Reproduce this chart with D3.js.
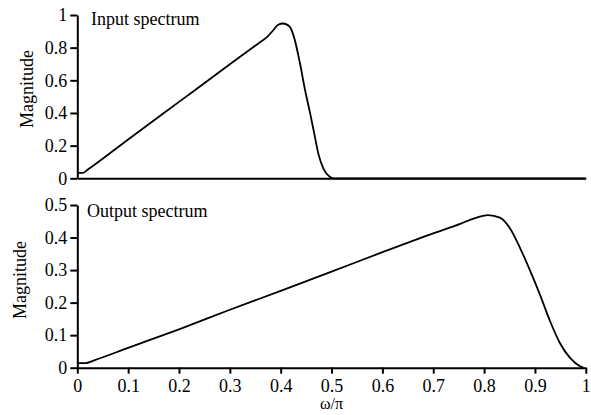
<!DOCTYPE html>
<html>
<head>
<meta charset="utf-8">
<script src="https://cdn.jsdelivr.net/npm/d3@7"></script>
<style>
  body { margin: 0; background: #fff; }
  svg { display: block; font-family: "Liberation Serif", "Times New Roman", serif; }
</style>
</head>
<body>
<div id="chart"></div>
<script>
// --- Data ---
const xTicks = [0, 0.1, 0.2, 0.3, 0.4, 0.5, 0.6, 0.7, 0.8, 0.9, 1];
const inputTicks = [0, 0.2, 0.4, 0.6, 0.8, 1];
const outputTicks = [0, 0.1, 0.2, 0.3, 0.4, 0.5];

const inputW = [0, 0.011, 0.02, 0.1, 0.2, 0.3, 0.36, 0.373, 0.385, 0.395, 0.405, 0.418, 0.426, 0.438, 0.448,
  0.458, 0.466, 0.474, 0.484, 0.497, 0.503, 0.6, 0.8, 1.0];
const inputMag = [0.033, 0.033, 0.052, 0.238, 0.468, 0.698, 0.835, 0.865, 0.905, 0.94, 0.948, 0.927, 0.866, 0.703, 0.539,
  0.396, 0.274, 0.151, 0.059, 0.008, 0, 0, 0, 0];

const outputW = [0, 0.016, 0.032, 0.1, 0.2, 0.3, 0.4, 0.5, 0.6, 0.7, 0.753, 0.779, 0.808, 0.831, 0.851,
  0.871, 0.89, 0.91, 0.93, 0.949, 0.969, 0.989, 0.995];
const outputMag = [0.014, 0.014, 0.022, 0.061, 0.118, 0.178, 0.236, 0.295, 0.355, 0.413, 0.442, 0.458, 0.469, 0.461, 0.428,
  0.367, 0.30, 0.224, 0.142, 0.076, 0.03, 0.004, 0];

const width = 591, height = 415;
const fontFamily = '"Liberation Serif", "Times New Roman", serif';
const fontSize = 18;

const svg = d3.select('#chart').append('svg')
  .attr('width', width)
  .attr('height', height);

const x = d3.scaleLinear().domain([0, 1]).range([77.3, 585.8]);

function styleAxis(sel) {
  sel.attr('font-family', fontFamily).attr('font-size', fontSize);
  sel.selectAll('path, line').attr('stroke', '#000').attr('stroke-width', 2);
  sel.selectAll('text').attr('fill', '#000');
}

function panel(opts) {
  const y = d3.scaleLinear().domain(opts.domain).range([opts.bottom, opts.top]);
  const g = svg.append('g');

  // y axis
  g.append('g')
    .attr('transform', `translate(${x(0)},0)`)
    .call(d3.axisLeft(y).tickValues(opts.yTicks).tickFormat(d3.format('~g'))
      .tickSize(7).tickSizeOuter(0).tickPadding(3))
    .call(styleAxis);

  // x axis
  g.append('g')
    .attr('transform', `translate(0,${opts.bottom})`)
    .call(d3.axisBottom(x).tickValues(opts.showX ? xTicks : []).tickFormat(d3.format('~g'))
      .tickSize(6).tickSizeOuter(0).tickPadding(6))
    .call(styleAxis);

  // data line
  const line = d3.line()
    .x((d, i) => x(opts.w[i]))
    .y(d => y(d))
    .curve(d3.curveMonotoneX);
  g.append('path')
    .datum(opts.mag)
    .attr('fill', 'none')
    .attr('stroke', '#000')
    .attr('stroke-width', 1.8)
    .attr('stroke-linejoin', 'round')
    .attr('d', line);

  // title inside panel
  g.append('text')
    .attr('x', opts.titleX)
    .attr('y', opts.titleY)
    .attr('font-size', fontSize)
    .text(opts.title);

  // y label
  g.append('text')
    .attr('transform', `translate(${opts.labelX},${opts.labelY}) rotate(-90)`)
    .attr('text-anchor', 'middle')
    .attr('font-size', fontSize)
    .text('Magnitude');
}

panel({
  domain: [0, 1], top: 15, bottom: 178.3, yTicks: inputTicks, showX: false,
  w: inputW, mag: inputMag, title: 'Input spectrum', titleX: 91, titleY: 25,
  labelX: 33, labelY: 89
});

panel({
  domain: [0, 0.5], top: 205, bottom: 367.7, yTicks: outputTicks, showX: true,
  w: outputW, mag: outputMag, title: 'Output spectrum', titleX: 87, titleY: 217,
  labelX: 26, labelY: 280
});

// x axis label
svg.append('text')
  .attr('x', (x(0) + x(1)) / 2)
  .attr('y', 409)
  .attr('text-anchor', 'middle')
  .attr('font-size', 16)
  .text('ω/π');
</script>
</body>
</html>
